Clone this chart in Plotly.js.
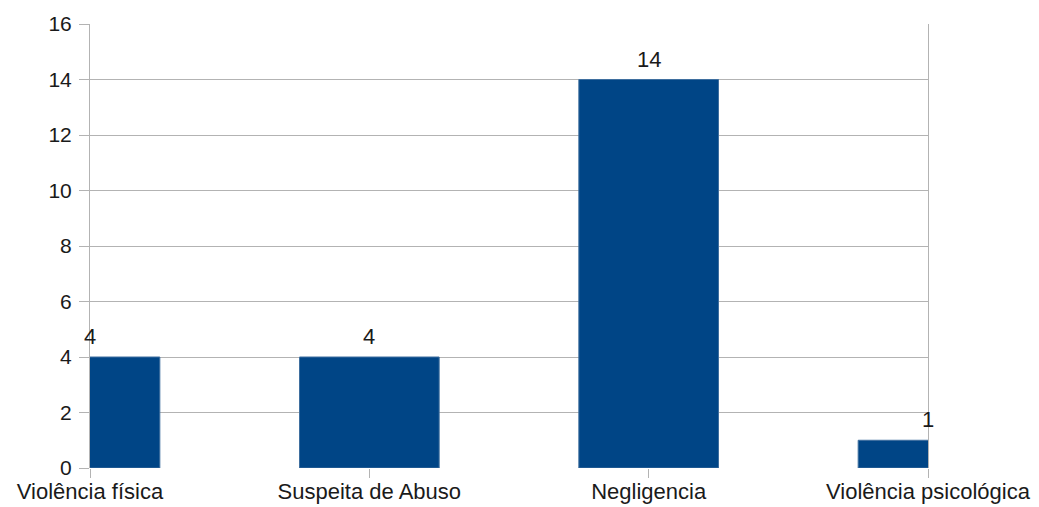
<!DOCTYPE html>
<html>
<head>
<meta charset="utf-8">
<script src="https://cdn.plot.ly/plotly-3.0.1.min.js"></script>
<style>html,body{margin:0;padding:0;background:#fff;}#chart{width:1039px;height:507px;}</style>
</head>
<body>
<div id="chart"></div>
<script>
const categories = ["Violência física", "Suspeita de Abuso", "Negligencia", "Violência psicológica"];
const values = [4, 4, 14, 1];
const yTicks = [0, 2, 4, 6, 8, 10, 12, 14, 16];

const FONT = "Liberation Sans, Arial, sans-serif";
const TEXT = "#1a1a1a";
const GRID = "#b3b3b3";

const trace = {
  type: "bar",
  x: categories,
  y: values,
  width: 0.5,
  marker: {color: "#004586", line: {color: "#3f6f9f", width: 1}},
  hoverinfo: "none"
};

const annotations = categories.map((c, i) => ({
  x: c, y: values[i], xref: "x", yref: "y",
  text: String(values[i]), showarrow: false,
  yanchor: "bottom", yshift: 6,
  font: {family: FONT, size: 22, color: TEXT}
}));

const layout = {
  width: 1039, height: 507,
  margin: {l: 90, r: 111, t: 24, b: 39, pad: 0},
  paper_bgcolor: "#fff", plot_bgcolor: "#fff",
  showlegend: false,
  xaxis: {
    type: "category", range: [0, 3],
    showgrid: false, zeroline: false,
    showline: false,
    ticks: "outside", ticklen: 9, tickcolor: GRID, tickwidth: 1,
    tickfont: {family: FONT, size: 22, color: TEXT},
    ticklabelstandoff: -5,
    automargin: false
  },
  yaxis: {
    range: [0, 16], tickvals: yTicks,
    showgrid: true, gridcolor: GRID, gridwidth: 1,
    zeroline: false,
    showline: true, linecolor: GRID, linewidth: 1, mirror: true,
    ticks: "outside", ticklen: 10, tickcolor: GRID, tickwidth: 1,
    tickfont: {family: FONT, size: 21, color: TEXT},
    ticklabelstandoff: 3,
    automargin: false
  },
  annotations: annotations
};

Plotly.newPlot("chart", [trace], layout, {staticPlot: true, displayModeBar: false});
</script>
</body>
</html>
